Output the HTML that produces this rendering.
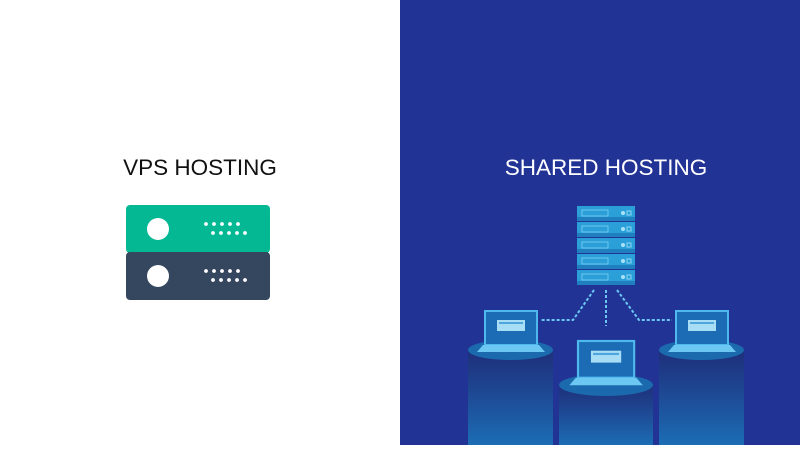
<!DOCTYPE html>
<html><head><meta charset="utf-8"><style>
body{margin:0;width:800px;height:445px;overflow:hidden;font-family:"Liberation Sans",sans-serif}
</style></head><body>
<svg width="800" height="445" viewBox="0 0 800 445" xmlns="http://www.w3.org/2000/svg">
<defs>
<linearGradient id="cyl" x1="0" y1="0" x2="0" y2="1">
<stop offset="0" stop-color="#1f2f7a"/><stop offset="0.4" stop-color="#1e4590"/><stop offset="1" stop-color="#1c6db5"/>
</linearGradient>
<g id="srv">
<rect x="0" y="0" width="58" height="15" fill="#2a9fd8"/>
<rect x="0" y="11" width="58" height="4" fill="#1f7fbf"/>
<rect x="5" y="4" width="26" height="6" fill="none" stroke="#7fd0f5" stroke-width="0.8"/>
<circle cx="46" cy="7" r="2" fill="#a8e2fa"/><rect x="50" y="5" width="4" height="4" fill="none" stroke="#a8e2fa" stroke-width="0.8"/>
</g>
<g id="lap">
<rect x="0" y="0" width="52" height="34" fill="#1b6cb4" stroke="#4fb8ec" stroke-width="2"/>
<rect x="12" y="9" width="28" height="11" fill="#a8ddf6"/>
<rect x="14" y="11" width="24" height="2" fill="#4fa6dd"/>
<path d="M-2 34 H54 L60 41 H-8 Z" fill="#6cc8f2"/>
</g>
</defs>
<rect x="0" y="0" width="400" height="445" fill="#fff"/>
<rect x="400" y="0" width="400" height="445" fill="#223396"/>
<text x="200" y="175" font-size="22.5" text-anchor="middle" fill="#111">VPS HOSTING</text>
<text x="606" y="175" font-size="22.5" text-anchor="middle" fill="#fff">SHARED HOSTING</text>
<rect x="126" y="205" width="144" height="48" rx="4" fill="#05b894"/>
<rect x="126" y="252" width="144" height="48" rx="4" fill="#35475e"/>
<circle cx="158" cy="229" r="11" fill="#fff"/>
<circle cx="158" cy="276" r="11" fill="#fff"/>
<g fill="#fff">
<circle cx="206" cy="224" r="1.9"/><circle cx="214" cy="224" r="1.9"/><circle cx="222" cy="224" r="1.9"/><circle cx="230" cy="224" r="1.9"/><circle cx="238" cy="224" r="1.9"/>
<circle cx="213" cy="233" r="1.9"/><circle cx="221" cy="233" r="1.9"/><circle cx="229" cy="233" r="1.9"/><circle cx="237" cy="233" r="1.9"/><circle cx="245" cy="233" r="1.9"/>
<circle cx="206" cy="271" r="1.9"/><circle cx="214" cy="271" r="1.9"/><circle cx="222" cy="271" r="1.9"/><circle cx="230" cy="271" r="1.9"/><circle cx="238" cy="271" r="1.9"/>
<circle cx="213" cy="280" r="1.9"/><circle cx="221" cy="280" r="1.9"/><circle cx="229" cy="280" r="1.9"/><circle cx="237" cy="280" r="1.9"/><circle cx="245" cy="280" r="1.9"/>
</g>
<use href="#srv" x="577" y="206"/><use href="#srv" x="577" y="222"/><use href="#srv" x="577" y="238"/><use href="#srv" x="577" y="254"/><use href="#srv" x="577" y="270"/>
<g stroke="#6cc8f2" stroke-width="2" stroke-dasharray="3 2" fill="none">
<path d="M594 290 L573 320 H540"/>
<path d="M606 290 V326"/>
<path d="M617 290 L639 320 H672"/>
</g>
<rect x="468" y="350" width="85" height="95" fill="url(#cyl)"/>
<ellipse cx="510.5" cy="350" rx="42.5" ry="10" fill="#1b6aae"/>
<rect x="659" y="350" width="85" height="95" fill="url(#cyl)"/>
<ellipse cx="701.5" cy="350" rx="42.5" ry="10" fill="#1b6aae"/>
<rect x="559" y="385" width="94" height="60" fill="url(#cyl)"/>
<ellipse cx="606" cy="385" rx="47" ry="11" fill="#1b6aae"/>
<use href="#lap" x="485" y="311"/>
<use href="#lap" x="676" y="311"/>
<g transform="translate(578,341) scale(1.08)"><use href="#lap"/></g>
</svg>
</body></html>
